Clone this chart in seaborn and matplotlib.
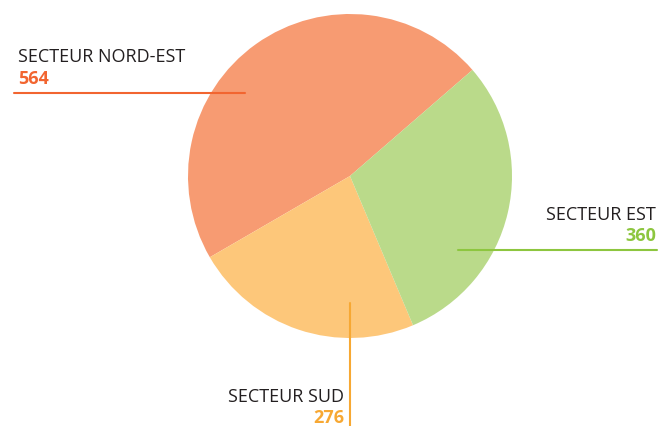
import matplotlib.pyplot as plt
import seaborn as sns

sectors = ["SECTEUR NORD-EST", "SECTEUR SUD", "SECTEUR EST"]
values = [564, 276, 360]
wedge_colors = ["#F79B72", "#FDC77A", "#BADA8A"]
accent_colors = ["#F26530", "#F7A833", "#8DC63F"]

sns.set_theme(style="white")
plt.rcParams['font.family'] = ['Open Sans', 'DejaVu Sans']

fig = plt.figure(figsize=(6.59, 4.26), dpi=100)
ax = fig.add_axes([0, 0, 1, 1])

ax.pie(values, colors=wedge_colors, startangle=40.9, counterclock=True,
       center=(350, 250), radius=162, frame=True,
       wedgeprops=dict(linewidth=0))
ax.set_xlim(0, 659)
ax.set_ylim(0, 426)
ax.set_aspect('equal')
ax.axis('off')

dark = "#231F20"
fs = 13
# NORD-EST
ax.plot([14, 245], [333, 333], color=accent_colors[0], lw=1.5)
ax.text(18, 364, sectors[0], fontsize=fs, color=dark, fontweight='medium',
        va='baseline', ha='left')
ax.text(18, 342, str(values[0]), fontsize=fs, color=accent_colors[0], fontweight='bold',
        va='baseline', ha='left')
# EST
ax.plot([458, 657], [176, 176], color=accent_colors[2], lw=1.5)
ax.text(656, 206, sectors[2], fontsize=fs, color=dark, fontweight='medium',
        va='baseline', ha='right')
ax.text(656, 185, str(values[2]), fontsize=fs, color=accent_colors[2], fontweight='bold',
        va='baseline', ha='right')
# SUD
ax.plot([350, 350], [123, 0], color=accent_colors[1], lw=1.5)
ax.text(344, 24, sectors[1], fontsize=fs, color=dark, fontweight='medium',
        va='baseline', ha='right')
ax.text(344, 3, str(values[1]), fontsize=fs, color=accent_colors[1], fontweight='bold',
        va='baseline', ha='right')

fig.savefig('out.png', dpi=100)
